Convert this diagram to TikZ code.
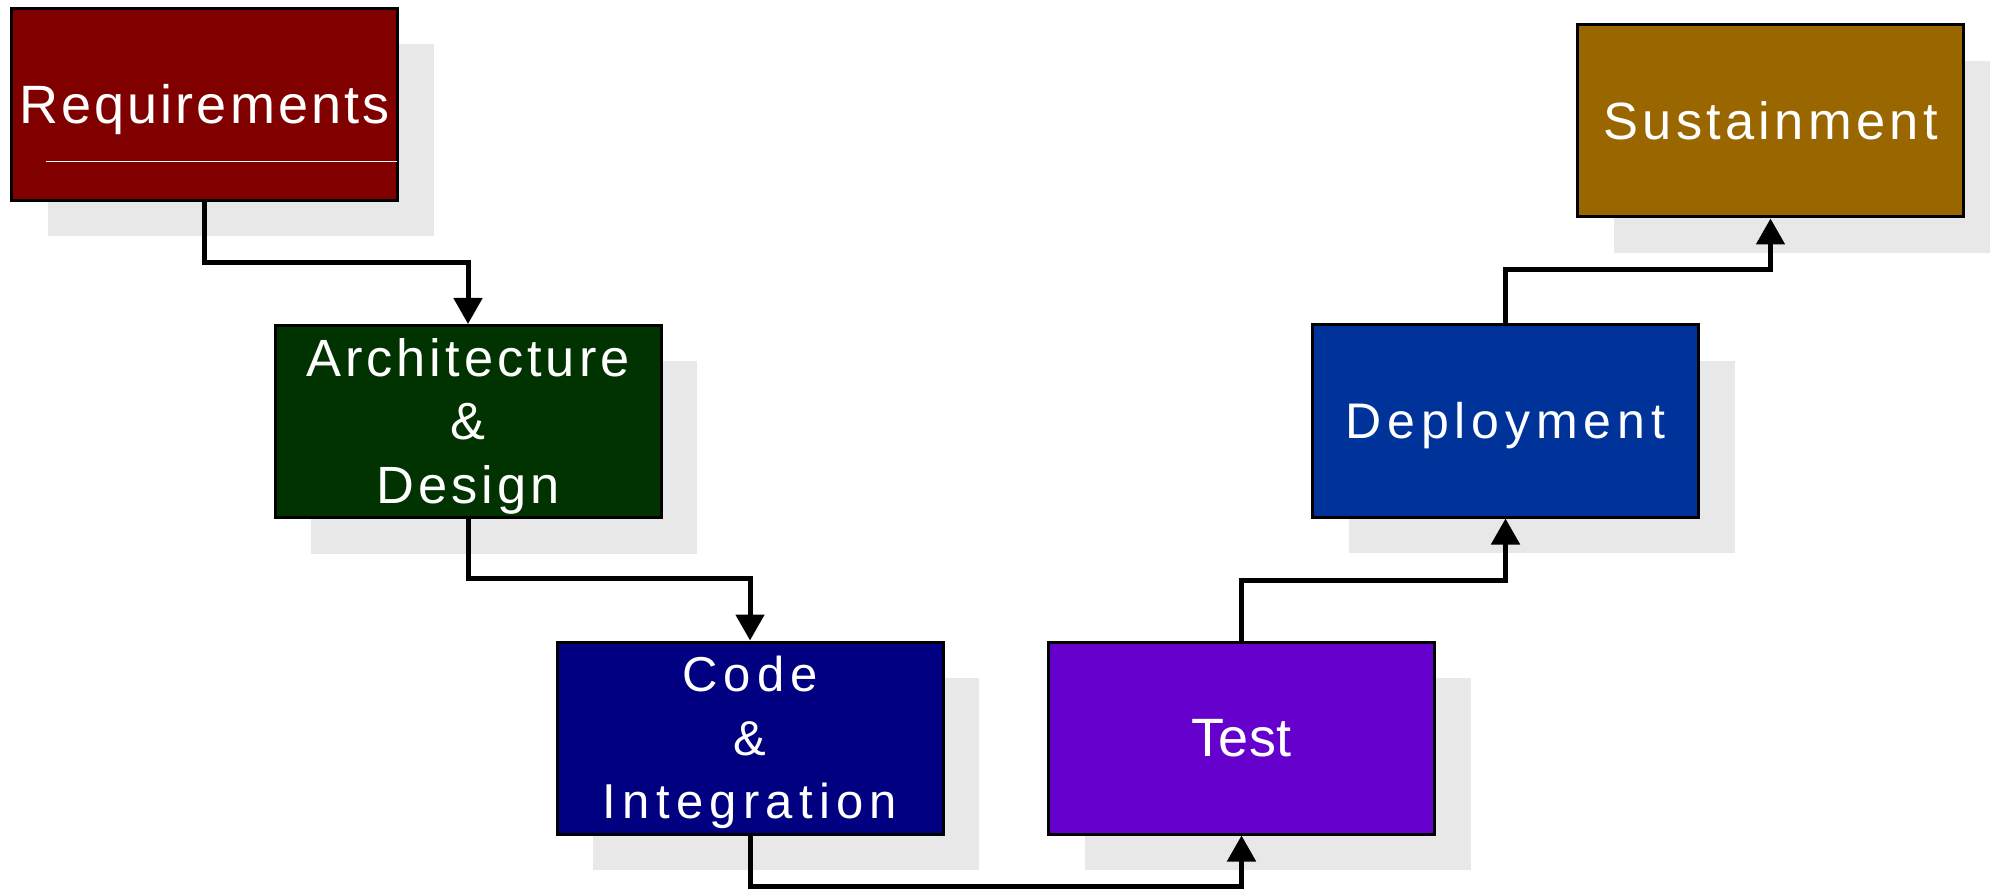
\documentclass[tikz,border=0pt]{standalone}
\usepackage{fontspec}
\newfontfamily\boxfont{Liberation Sans}
\usetikzlibrary{arrows.meta,shadows}
\definecolor{reqc}{HTML}{800000}
\definecolor{archc}{HTML}{003300}
\definecolor{codec}{HTML}{000080}
\definecolor{testc}{HTML}{6600CC}
\definecolor{depc}{HTML}{003399}
\definecolor{susc}{HTML}{996600}
\definecolor{shadowc}{HTML}{E8E8E8}
\begin{document}
\begin{tikzpicture}[x=1pt,y=-1pt,
  box/.style={draw=black, line width=3pt, minimum width=386pt, minimum height=192pt,
    inner sep=0pt, text=white, align=center,
    drop shadow={shadow xshift=36pt, shadow yshift=-36pt, fill=shadowc, opacity=1}},
  txt/.style 2 args={font={\boxfont\fontsize{#1pt}{63.5pt}\selectfont\addfontfeature{LetterSpace=#2}}},
  oneline/.style={text height={0.7*#1 pt}, text depth=0pt},
  threeline/.style={text height={127pt+0.7*#1 pt}, text depth=0pt},
  conn/.style={line width=5pt, -{Triangle[width=28pt,length=26pt]}}]
\useasboundingbox (0,0) rectangle (1990,890);
\fill[white] (0,0) rectangle (1990,890);

\node[box, fill=reqc, txt={54}{5.7}, oneline=54] (req) at (204.5,104.5) {Requirements};
\draw[white, line width=1pt] ([xshift=36pt, yshift=-57pt]req.west) -- ([xshift=-2pt, yshift=-57pt]req.east);
\node[box, fill=archc, txt={52.4}{7.6}, threeline=52.4] (arch) at (468,421.5) {Architecture\\\&\\Design};
\node[box, fill=codec, txt={49}{12.8}, threeline=49] (code) at (750,738) {Code\\\&\\Integration};
\node[box, fill=testc, txt={54}{1}, oneline=54] (test) at (1241.5,738) {Test};
\node[box, fill=depc, txt={50}{11.7}, oneline=50] (deploy) at (1505.5,421) {Deployment};
\node[box, fill=susc, txt={52.4}{8.2}, oneline=52.4] (sust) at (1770.5,121) {Sustainment};

\coordinate (j1) at (336,263);
\coordinate (j2) at (609,578);
\coordinate (j3) at (996,886);
\coordinate (j4) at (1373,580);
\coordinate (j5) at (1638,270);
\draw[conn] (req.south) |- (j1) -| (arch.north);
\draw[conn] (arch.south) |- (j2) -| (code.north);
\draw[conn] (code.south) |- (j3) -| (test.south);
\draw[conn] (test.north) |- (j4) -| (deploy.south);
\draw[conn] (deploy.north) |- (j5) -| (sust.south);
\end{tikzpicture}
\end{document}
